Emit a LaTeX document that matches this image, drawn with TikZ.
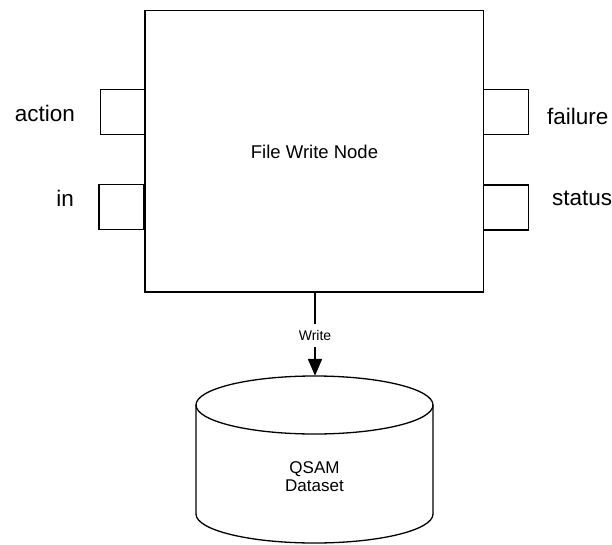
\documentclass[tikz,border=0pt]{standalone}
\usepackage{fontspec}
\setmainfont{Liberation Sans}
\usetikzlibrary{arrows.meta}
\begin{document}
\begin{tikzpicture}[x=1pt,y=-1pt,
  outline/.style={draw=black, line width=1.3pt},
  portbox/.style={outline, minimum width=45pt, minimum height=45pt, inner sep=0pt},
  portlabel/.style={font=\fontsize{22.5}{26}\selectfont, inner sep=0pt},
  flow/.style={line width=2pt, -{Triangle[width=14pt,length=17pt]}}]
\useasboundingbox (0,0) rectangle (612,545);
% main node
\node[outline, minimum width=338.5pt, minimum height=281.3pt, inner sep=0pt] (box) at (314.25,151.35) {};
\node[anchor=base, inner sep=0pt, font=\fontsize{18.5}{22}\selectfont] (title) at (314.5,158.3) {File Write Node};
% ports
\node[portbox] (paction) at (123.1,111.7) {};
\node[portbox] (pin) at (121.5,207) {};
\node[portbox] (pfail) at (506,111.7) {};
\node[portbox] (pstat) at (506,207.5) {};
\node[portlabel, anchor=base east] (laction) at (75,121.7) {action};
\node[portlabel, anchor=base east] (lin) at (74,206.7) {in};
\node[portlabel, anchor=base west] (lfail) at (547,124.3) {failure};
\node[portlabel, anchor=base west] (lstat) at (552,205) {status};
% dataset cylinder
\node[minimum width=237pt, minimum height=167pt, inner sep=0pt] (db) at (314.5,459.5) {};
\draw[line width=1.3pt] (196,405) -- (196,514) arc[start angle=180, end angle=360, x radius=118.5pt, y radius=29pt] -- (433,405);
\draw[line width=1.3pt] (314.5,405) ellipse [x radius=118.5pt, y radius=29pt];
\node[align=center, inner sep=0pt, font=\fontsize{17}{18.5}\selectfont] (dblabel) at (314.5,476.5) {QSAM\\Dataset};
% connector
\draw[flow] (box.south -| 315,0) -- node[pos=0.52, fill=white, inner xsep=1pt, inner ysep=6pt, text height=10pt, text depth=1pt, font=\fontsize{14}{16}\selectfont] (wlab) {Write} (db.north -| 315,0);
\end{tikzpicture}
\end{document}
